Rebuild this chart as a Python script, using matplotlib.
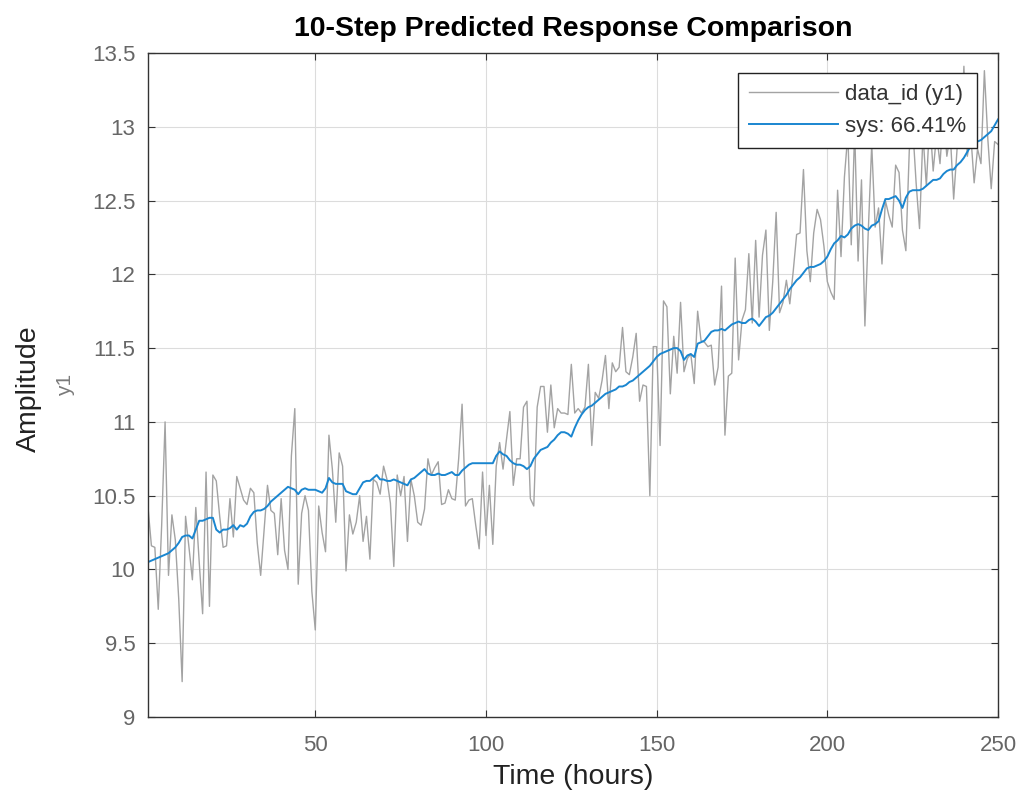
import numpy as np
import matplotlib
matplotlib.use('Agg')
import matplotlib.pyplot as plt

data_id = [
    10.42, 10.16, 10.15, 9.73, 10.30, 11.00, 9.96, 10.37, 10.20, 9.80,
    9.24, 10.36, 10.15, 9.93, 10.42, 10.05, 9.70, 10.66, 9.75, 10.64,
    10.60, 10.36, 10.15, 10.16, 10.48, 10.22, 10.63, 10.55, 10.47, 10.44,
    10.55, 10.52, 10.18, 9.96, 10.27, 10.57, 10.40, 10.38, 10.10, 10.48,
    10.13, 10.00, 10.77, 11.09, 9.90, 10.38, 10.50, 10.40, 9.85, 9.59,
    10.43, 10.25, 10.12, 10.91, 10.68, 10.32, 10.79, 10.70, 9.99, 10.37,
    10.24, 10.32, 10.50, 10.19, 10.36, 10.07, 10.61, 10.59, 10.51, 10.70,
    10.61, 10.45, 10.02, 10.64, 10.50, 10.63, 10.19, 10.61, 10.50, 10.32,
    10.30, 10.41, 10.75, 10.64, 10.69, 10.73, 10.44, 10.45, 10.54, 10.48,
    10.47, 10.75, 11.12, 10.43, 10.47, 10.48, 10.30, 10.14, 10.66, 10.23,
    10.57, 10.17, 10.70, 10.86, 10.68, 10.88, 11.07, 10.57, 10.75, 10.75,
    11.10, 11.14, 10.48, 10.43, 11.10, 11.24, 11.24, 10.93, 11.25, 10.96,
    11.09, 11.06, 11.06, 11.05, 11.39, 11.06, 11.09, 11.06, 11.10, 11.39,
    10.84, 11.20, 11.16, 11.28, 11.45, 11.09, 11.40, 11.34, 11.37, 11.64,
    11.34, 11.32, 11.44, 11.60, 11.14, 11.25, 11.24, 10.50, 11.51, 11.51,
    10.84, 11.82, 11.78, 11.19, 11.58, 11.33, 11.81, 11.34, 11.43, 11.46,
    11.26, 11.75, 11.55, 11.54, 11.51, 11.52, 11.25, 11.37, 11.92, 10.91,
    11.31, 11.33, 12.11, 11.42, 11.69, 11.76, 12.14, 11.67, 12.23, 11.71,
    12.13, 12.30, 11.62, 11.95, 12.42, 11.74, 11.81, 11.96, 11.80, 12.02,
    12.27, 12.28, 12.71, 12.16, 11.95, 12.28, 12.44, 12.37, 12.19, 11.95,
    11.88, 11.83, 12.57, 12.12, 12.66, 12.95, 12.20, 12.98, 12.09, 12.64,
    11.65, 12.30, 12.88, 12.32, 12.45, 12.07, 12.50, 12.40, 12.32, 12.74,
    12.69, 12.30, 12.16, 12.84, 13.00, 12.62, 12.31, 12.95, 12.60, 13.05,
    12.70, 12.95, 12.75, 13.10, 12.80, 12.95, 12.51, 12.85, 12.90, 13.41,
    12.80, 12.95, 12.62, 12.85, 12.75, 13.38, 12.92, 12.58, 12.90, 12.88,
]

# 10-step ahead model prediction (blue)
sys_pred = [
    10.05, 10.06, 10.07, 10.08, 10.09, 10.10, 10.11, 10.13, 10.15, 10.18,
    10.22, 10.23, 10.23, 10.21, 10.27, 10.33, 10.33, 10.34, 10.35, 10.35,
    10.27, 10.25, 10.27, 10.27, 10.28, 10.30, 10.27, 10.30, 10.29, 10.31,
    10.36, 10.39, 10.40, 10.40, 10.41, 10.43, 10.46, 10.48, 10.50, 10.52,
    10.54, 10.56, 10.55, 10.54, 10.51, 10.54, 10.55, 10.54, 10.54, 10.54,
    10.53, 10.52, 10.55, 10.62, 10.59, 10.58, 10.58, 10.58, 10.53, 10.52,
    10.51, 10.51, 10.55, 10.59, 10.60, 10.60, 10.62, 10.64, 10.61, 10.61,
    10.60, 10.60, 10.61, 10.60, 10.59, 10.58, 10.57, 10.61, 10.62, 10.64,
    10.66, 10.68, 10.65, 10.64, 10.64, 10.65, 10.64, 10.64, 10.65, 10.66,
    10.64, 10.64, 10.67, 10.69, 10.71, 10.72, 10.72, 10.72, 10.72, 10.72,
    10.72, 10.72, 10.77, 10.80, 10.78, 10.77, 10.74, 10.72, 10.71, 10.71,
    10.70, 10.68, 10.70, 10.75, 10.78, 10.81, 10.82, 10.83, 10.86, 10.88,
    10.91, 10.93, 10.93, 10.92, 10.90, 10.96, 11.01, 11.05, 11.08, 11.10,
    11.11, 11.13, 11.15, 11.17, 11.19, 11.20, 11.21, 11.22, 11.24, 11.24,
    11.25, 11.27, 11.28, 11.30, 11.32, 11.34, 11.36, 11.38, 11.41, 11.44,
    11.46, 11.47, 11.48, 11.49, 11.50, 11.50, 11.48, 11.42, 11.45, 11.46,
    11.44, 11.53, 11.54, 11.55, 11.58, 11.61, 11.62, 11.62, 11.63, 11.62,
    11.64, 11.66, 11.67, 11.68, 11.67, 11.67, 11.69, 11.70, 11.68, 11.65,
    11.68, 11.71, 11.72, 11.74, 11.77, 11.80, 11.83, 11.86, 11.90, 11.93,
    11.96, 11.98, 12.01, 12.04, 12.05, 12.05, 12.06, 12.07, 12.09, 12.12,
    12.17, 12.21, 12.23, 12.26, 12.25, 12.27, 12.31, 12.33, 12.34, 12.33,
    12.31, 12.30, 12.33, 12.34, 12.36, 12.44, 12.51, 12.51, 12.52, 12.53,
    12.50, 12.45, 12.52, 12.56, 12.57, 12.57, 12.57, 12.58, 12.60, 12.62,
    12.64, 12.64, 12.65, 12.68, 12.70, 12.71, 12.71, 12.74, 12.76, 12.79,
    12.83, 12.87, 12.88, 12.90, 12.91, 12.93, 12.95, 12.97, 13.01, 13.05,
]

x_ticks = [50, 100, 150, 200, 250]
y_ticks = [9, 9.5, 10, 10.5, 11, 11.5, 12, 12.5, 13, 13.5]
labels = ['data_id (y1)', 'sys: 66.41%']

plt.rcParams['font.family'] = ['Liberation Sans', 'DejaVu Sans']

hours = np.arange(1, len(data_id) + 1)

fig = plt.figure(figsize=(10.25, 7.99), dpi=100)
ax = fig.add_axes([0.1444, 0.1026, 0.8293, 0.8311])

ax.plot(hours, data_id, color='#a3a3a3', linewidth=1.0, label=labels[0])
ax.plot(hours, sys_pred, color='#1a86d0', linewidth=1.4, label=labels[1])

ax.set_xlim(1, 250)
ax.set_ylim(9, 13.5)
ax.set_xticks(x_ticks)
ax.set_yticks(y_ticks)
ax.set_yticklabels([f'{v:g}' for v in y_ticks])

ax.grid(True, color='#dcdcdc', linewidth=0.8)
ax.set_axisbelow(True)
ax.tick_params(axis='both', labelsize=16, labelcolor='#666666', color='#333333',
               direction='in', length=5, top=True, right=True)
ax.tick_params(axis='x', pad=13)
ax.tick_params(axis='y', pad=9)
for sp in ax.spines.values():
    sp.set_color('#333333')
    sp.set_linewidth(1.0)

ax.set_title('10-Step Predicted Response Comparison', fontsize=20.5,
             fontweight='bold', pad=12)
ax.set_xlabel('Time (hours)', fontsize=20.5, color='#222222', labelpad=6)
fig.text(0.028, 0.514, 'Amplitude', rotation=90, fontsize=20.5, color='#222222',
         ha='center', va='center')
fig.text(0.064, 0.518, 'y1', rotation=90, fontsize=15, color='#7a7a7a',
         ha='center', va='center')

leg = ax.legend(loc='upper right', bbox_to_anchor=(0.9753, 0.970), fontsize=16,
                handlelength=4.0, fancybox=False, framealpha=1,
                borderpad=0.5, labelspacing=0.5, handletextpad=0.3,
                borderaxespad=0)
leg.get_frame().set_edgecolor('#222222')
leg.get_frame().set_linewidth(1.0)
for t in leg.get_texts():
    t.set_color('#333333')

fig.savefig('out.png', dpi=100)
